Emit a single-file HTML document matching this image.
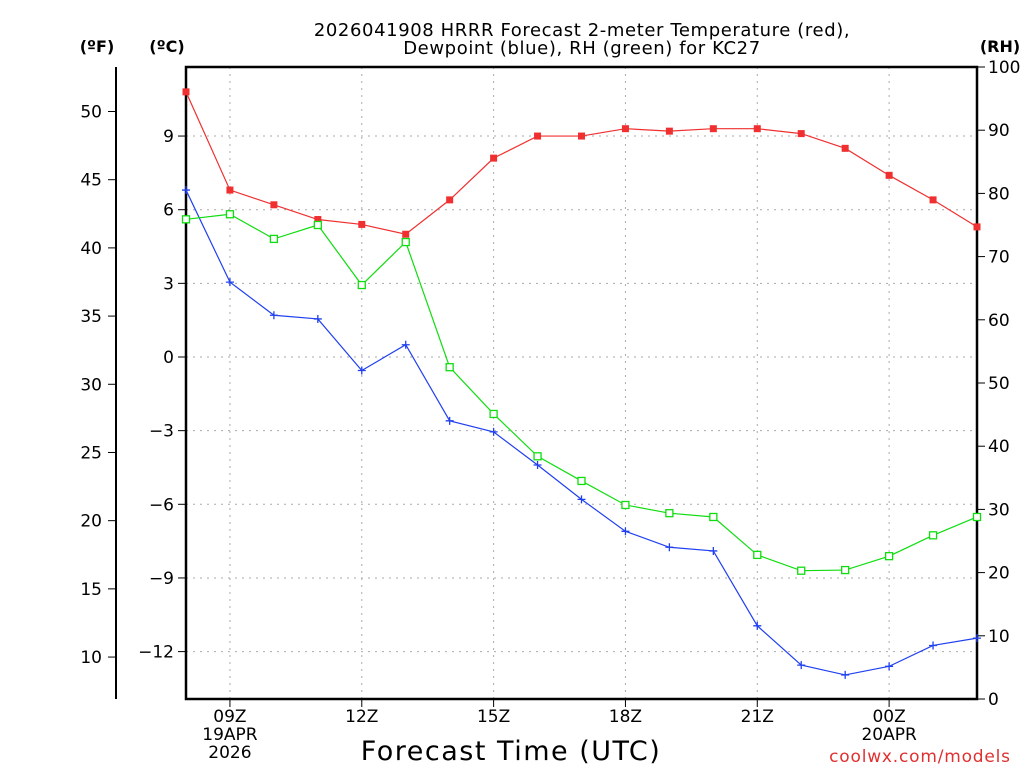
<!DOCTYPE html>
<html><head><meta charset="utf-8"><style>
html,body{margin:0;padding:0;background:#fff;}
svg{display:block;font-family:"DejaVu Sans","Liberation Sans",sans-serif;}
</style></head><body>
<svg id="chart" width="1024" height="768" viewBox="0 0 1024 768">
<text x="582" y="36" text-anchor="middle" font-size="18" letter-spacing="0.6">2026041908 HRRR Forecast 2-meter Temperature (red),</text>
<text x="582" y="54" text-anchor="middle" font-size="18" letter-spacing="0.6">Dewpoint (blue), RH (green) for KC27</text>
<text x="97" y="52" text-anchor="middle" font-size="16" font-weight="bold">(ºF)</text>
<text x="167" y="52" text-anchor="middle" font-size="16" font-weight="bold">(ºC)</text>
<text x="1000" y="52" text-anchor="middle" font-size="16" font-weight="bold">(RH)</text>
<text x="511" y="760" text-anchor="middle" font-size="27" letter-spacing="1.5">Forecast Time (UTC)</text>
<text x="920" y="762" text-anchor="middle" font-size="17" letter-spacing="0.8" fill="#e03030">coolwx.com/models</text>
<g id="grid"></g><g id="axes"></g><g id="series"></g>
</svg>
<script>
const hours = [8,9,10,11,12,13,14,15,16,17,18,19,20,21,22,23,24,25,26];
const tempC = [10.8,6.8,6.2,5.6,5.4,5.0,6.4,8.1,9.0,9.0,9.3,9.2,9.3,9.3,9.1,8.5,7.4,6.4,5.3];
const dewC = [6.8,3.05,1.7,1.55,-0.55,0.5,-2.6,-3.05,-4.4,-5.8,-7.1,-7.75,-7.9,-10.95,-12.55,-12.95,-12.6,-11.75,-11.45];
const rh = [75.9,76.7,72.8,75.0,65.5,72.3,52.5,45.1,38.4,34.5,30.7,29.4,28.8,22.8,20.3,20.4,22.6,25.9,28.8];
const cTicks = [9,6,3,0,-3,-6,-9,-12];
const cLabels = ["9","6","3","0","\u22123","\u22126","\u22129","\u221212"];
const fTicks = [50,45,40,35,30,25,20,15,10];
const rhTicks = [0,10,20,30,40,50,60,70,80,90,100];
const xTickHours = [9,12,15,18,21,24];
const xTickLabels = [["09Z","19APR","2026"],["12Z"],["15Z"],["18Z"],["21Z"],["00Z","20APR"]];

const L=186,R=977,T=67,B=699;
const x = h => L + (h-8)*(R-L)/18;
const yC = c => 357 - c*24.55;
const yF = f => yC((f-32)/1.8);
const yR = r => B - r*(B-T)/100;
const NS="http://www.w3.org/2000/svg";
function mk(tag,attrs,parent){const e=document.createElementNS(NS,tag);for(const k in attrs)e.setAttribute(k,attrs[k]);parent.appendChild(e);return e;}
const grid=document.getElementById('grid'),axes=document.getElementById('axes'),ser=document.getElementById('series');

cTicks.forEach((c,i)=>{
  const g=mk('line',{x1:L,x2:R,y1:yC(c),y2:yC(c),stroke:'#aaa','stroke-dasharray':'2 5'},grid);
  
  
  mk('line',{x1:L-8,x2:L,y1:yC(c),y2:yC(c),stroke:'#000'},axes);
  const t=mk('text',{x:L-12,y:yC(c)+6,'text-anchor':'end','font-size':17},axes);t.textContent=cLabels[i];
  
  
});
xTickHours.forEach((h,i)=>{
  const g=mk('line',{x1:x(h),x2:x(h),y1:T,y2:B,stroke:'#aaa','stroke-dasharray':'2 5'},grid);
  
  
  mk('line',{x1:x(h),x2:x(h),y1:B,y2:B+8,stroke:'#000'},axes);
  xTickLabels[i].forEach((s,j)=>{
    const t=mk('text',{x:x(h),y:B+23+j*18,'text-anchor':'middle','font-size':17},axes);t.textContent=s;
    
    
  });
});
mk('line',{x1:116,x2:116,y1:T,y2:B,stroke:'#000','stroke-width':2},axes);
fTicks.forEach(f=>{
  mk('line',{x1:108,x2:116,y1:yF(f),y2:yF(f),stroke:'#000'},axes);
  const t=mk('text',{x:102,y:yF(f)+6,'text-anchor':'end','font-size':17},axes);t.textContent=f;
  
  
});
rhTicks.forEach(r=>{
  mk('line',{x1:R,x2:R+8,y1:yR(r),y2:yR(r),stroke:'#000'},axes);
  const t=mk('text',{x:988,y:yR(r)+6,'font-size':17},axes);t.textContent=r;
  
  
});
const fr=mk('rect',{x:L,y:T,width:R-L,height:B-T,fill:'none',stroke:'#000','stroke-width':2.5},axes);



function line(vals,yf,color,name){
  const p=mk('polyline',{points:vals.map((v,i)=>x(hours[i])+','+yf(v)).join(' '),fill:'none',stroke:color,'stroke-width':1.2},ser);
  
  
}
line(tempC,yC,'#f03030','temperature');
line(dewC,yC,'#2040f0','dewpoint');
line(rh,yR,'#10dd10','rh');
tempC.forEach((v,i)=>{const m=mk('rect',{x:x(hours[i])-3.5,y:yC(v)-3.5,width:7,height:7,fill:'#f03030'},ser);
  
  });
dewC.forEach((v,i)=>{const cx=x(hours[i]),cy=yC(v);const m=mk('path',{d:`M${cx-4},${cy}H${cx+4}M${cx},${cy-4}V${cy+4}`,stroke:'#2040f0','stroke-width':1.3},ser);
  
  });
rh.forEach((v,i)=>{const m=mk('rect',{x:x(hours[i])-3.5,y:yR(v)-3.5,width:7,height:7,fill:'#fff',stroke:'#10dd10','stroke-width':1.3},ser);
  
  });
</script>
</body></html>
